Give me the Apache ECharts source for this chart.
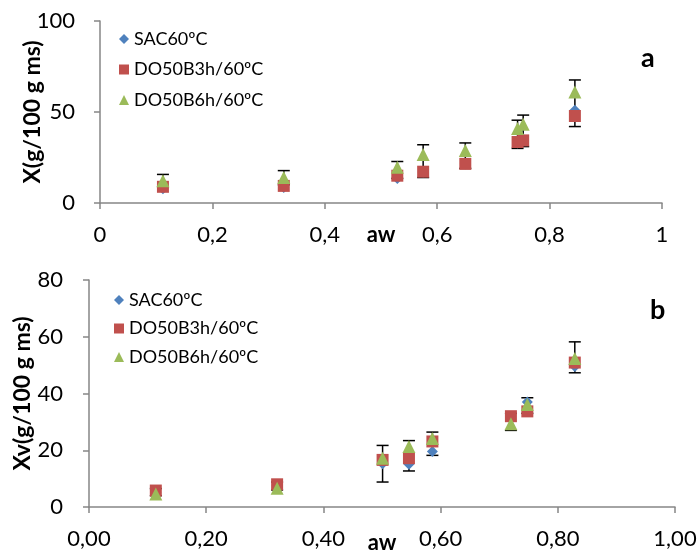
<!DOCTYPE html>
<html>
<head>
<meta charset="utf-8">
<script src="https://cdn.jsdelivr.net/npm/echarts@6/dist/echarts.min.js"></script>
<style>html,body{margin:0;padding:0;background:#fff}#c{width:699px;height:554px}</style>
</head>
<body>
<div id="c"></div>
<script>
const seriesNames = ['SAC60ºC', 'DO50B3h/60ºC', 'DO50B6h/60ºC'];
const topXTickLabels = ['0', '0,2', '0,4', '0,6', '0,8', '1'];
const botXTickLabels = ['0,00', '0,20', '0,40', '0,60', '0,80', '1,00'];

const awTop = [0.112, 0.327, 0.529, 0.575, 0.650, 0.743, 0.753, 0.845];
const sacTop = [7.8, 8.5, 13.5, 17.0, 21.5, 33.0, 35.0, 51.0];
const do3Top = [8.9, 9.4, 15.0, 17.2, 21.5, 33.5, 34.4, 47.8];
const do6Top = [12.2, 14.0, 19.6, 26.6, 28.9, 40.9, 43.3, 61.0];
const errTopLow = [9.0, 10.0, 13.5, 14.0, 19.0, 30.0, 31.0, 42.0];
const errTopHigh = [15.7, 17.8, 22.8, 32.0, 33.0, 45.5, 48.3, 67.6];

const awBot = [0.114, 0.321, 0.501, 0.546, 0.586, 0.720, 0.748, 0.829];
const sacBot = [5.0, 7.5, 15.2, 15.1, 19.6, 31.0, 37.0, 49.5];
const do3Bot = [5.8, 8.0, 16.6, 17.2, 23.1, 32.0, 33.7, 50.9];
const do6Bot = [4.6, 6.6, 17.2, 21.3, 24.1, 29.3, 36.1, 52.3];
const errBotLow = [4.0, 6.0, 8.8, 12.7, 18.2, 27.0, 33.0, 47.3];
const errBotHigh = [6.5, 8.8, 21.7, 23.4, 26.4, 33.0, 38.5, 58.2];

const FONT = 'Lato';
const colors = ['#4F81BD', '#C0504D', '#9BBB59'];
const symbols = ['diamond', 'rect', 'triangle'];
const symSizes = [11, 12, 13];

function pairs(xs, ys) { return xs.map((x, i) => [x, ys[i]]); }
function errData(xs, lo, hi) { return xs.map((x, i) => [x, lo[i], hi[i]]); }

function errSeries(idx, data) {
  return {
    type: 'custom', xAxisIndex: idx, yAxisIndex: idx, z: 1, silent: true,
    data: data,
    encode: { x: 0, y: [1, 2] },
    renderItem: function (params, api) {
      const x = api.value(0);
      const lo = api.coord([x, api.value(1)]);
      const hi = api.coord([x, api.value(2)]);
      const w = 6;
      const st = { stroke: '#000', lineWidth: 1.5 };
      return {
        type: 'group', children: [
          { type: 'line', shape: { x1: lo[0], y1: lo[1], x2: hi[0], y2: hi[1] }, style: st },
          { type: 'line', shape: { x1: lo[0] - w, y1: lo[1], x2: lo[0] + w, y2: lo[1] }, style: st },
          { type: 'line', shape: { x1: hi[0] - w, y1: hi[1], x2: hi[0] + w, y2: hi[1] }, style: st }
        ]
      };
    }
  };
}

function scatter(idx, k, data) {
  return {
    name: seriesNames[k], type: 'scatter', xAxisIndex: idx, yAxisIndex: idx, z: 3,
    symbol: symbols[k], symbolSize: symSizes[k],
    itemStyle: { color: colors[k], opacity: 1 },
    data: data
  };
}

const axisLine = { lineStyle: { color: '#868686', width: 1.5 } };
const axisTick = { show: true, inside: false, length: 6, lineStyle: { color: '#868686', width: 1.5 } };
const nameStyle = { fontFamily: FONT, fontWeight: 'bold', color: '#000' };
const legendText = { fontFamily: FONT, fontSize: 18, color: '#000' };

const chart = echarts.init(document.getElementById('c'));
chart.setOption({
  animation: false,
  textStyle: { fontFamily: FONT },
  grid: [
    { left: 100, top: 21, width: 562, height: 182, outerBoundsMode: 'none', containLabel: false },
    { left: 89, top: 280, width: 586, height: 227, outerBoundsMode: 'none', containLabel: false }
  ],
  title: [
    { text: 'a', left: 636, top: 40, textStyle: { fontFamily: FONT, fontSize: 27, fontWeight: 'bold', color: '#000' } },
    { text: 'b', left: 645, top: 292, textStyle: { fontFamily: FONT, fontSize: 27, fontWeight: 'bold', color: '#000' } }
  ],
  legend: [
    { data: seriesNames, orient: 'vertical', left: 114, top: 25, itemGap: 12.5, itemWidth: 10, itemHeight: 10,
      textStyle: legendText },
    { data: seriesNames, orient: 'vertical', left: 109, top: 286, itemGap: 10.5, itemWidth: 10, itemHeight: 10,
      textStyle: legendText }
  ],
  xAxis: [
    { gridIndex: 0, type: 'value', min: 0, max: 1, interval: 0.2, splitLine: { show: false },
      axisLine: axisLine, axisTick: axisTick,
      axisLabel: { margin: 21, fontSize: 22, color: '#000', fontFamily: FONT,
        formatter: v => topXTickLabels[Math.round(v / 0.2)] },
      name: 'aw', nameLocation: 'middle', nameGap: 21, nameMoveOverlap: false,
      nameTextStyle: Object.assign({ fontSize: 22, verticalAlign: 'top' }, nameStyle) },
    { gridIndex: 1, type: 'value', min: 0, max: 1, interval: 0.2, splitLine: { show: false },
      axisLine: axisLine, axisTick: axisTick,
      axisLabel: { margin: 21, fontSize: 22, color: '#000', fontFamily: FONT,
        formatter: v => botXTickLabels[Math.round(v / 0.2)] },
      name: 'aw', nameLocation: 'middle', nameGap: 25, nameMoveOverlap: false,
      nameTextStyle: Object.assign({ fontSize: 22, verticalAlign: 'top' }, nameStyle) }
  ],
  yAxis: [
    { gridIndex: 0, type: 'value', min: 0, max: 100, interval: 50, splitLine: { show: false },
      axisLine: { show: true, lineStyle: axisLine.lineStyle }, axisTick: axisTick,
      axisLabel: { margin: 25, fontSize: 22, color: '#000', fontFamily: FONT },
      name: 'X(g/100 g ms)', nameLocation: 'middle', nameRotate: 90, nameGap: 67, nameMoveOverlap: false,
      nameTextStyle: Object.assign({ fontSize: 23, verticalAlign: 'middle' }, nameStyle) },
    { gridIndex: 1, type: 'value', min: 0, max: 80, interval: 20, splitLine: { show: false },
      axisLine: { show: true, lineStyle: axisLine.lineStyle }, axisTick: axisTick,
      axisLabel: { margin: 26, fontSize: 22, color: '#000', fontFamily: FONT },
      name: 'Xv(g/100 g ms)', nameLocation: 'middle', nameRotate: 90, nameGap: 66, nameMoveOverlap: false,
      nameTextStyle: Object.assign({ fontSize: 23, verticalAlign: 'middle' }, nameStyle) }
  ],
  series: [
    errSeries(0, errData(awTop, errTopLow, errTopHigh)),
    scatter(0, 0, pairs(awTop, sacTop)),
    scatter(0, 1, pairs(awTop, do3Top)),
    scatter(0, 2, pairs(awTop, do6Top)),
    errSeries(1, errData(awBot, errBotLow, errBotHigh)),
    scatter(1, 0, pairs(awBot, sacBot)),
    scatter(1, 1, pairs(awBot, do3Bot)),
    scatter(1, 2, pairs(awBot, do6Bot))
  ]
});
</script>
</body>
</html>
